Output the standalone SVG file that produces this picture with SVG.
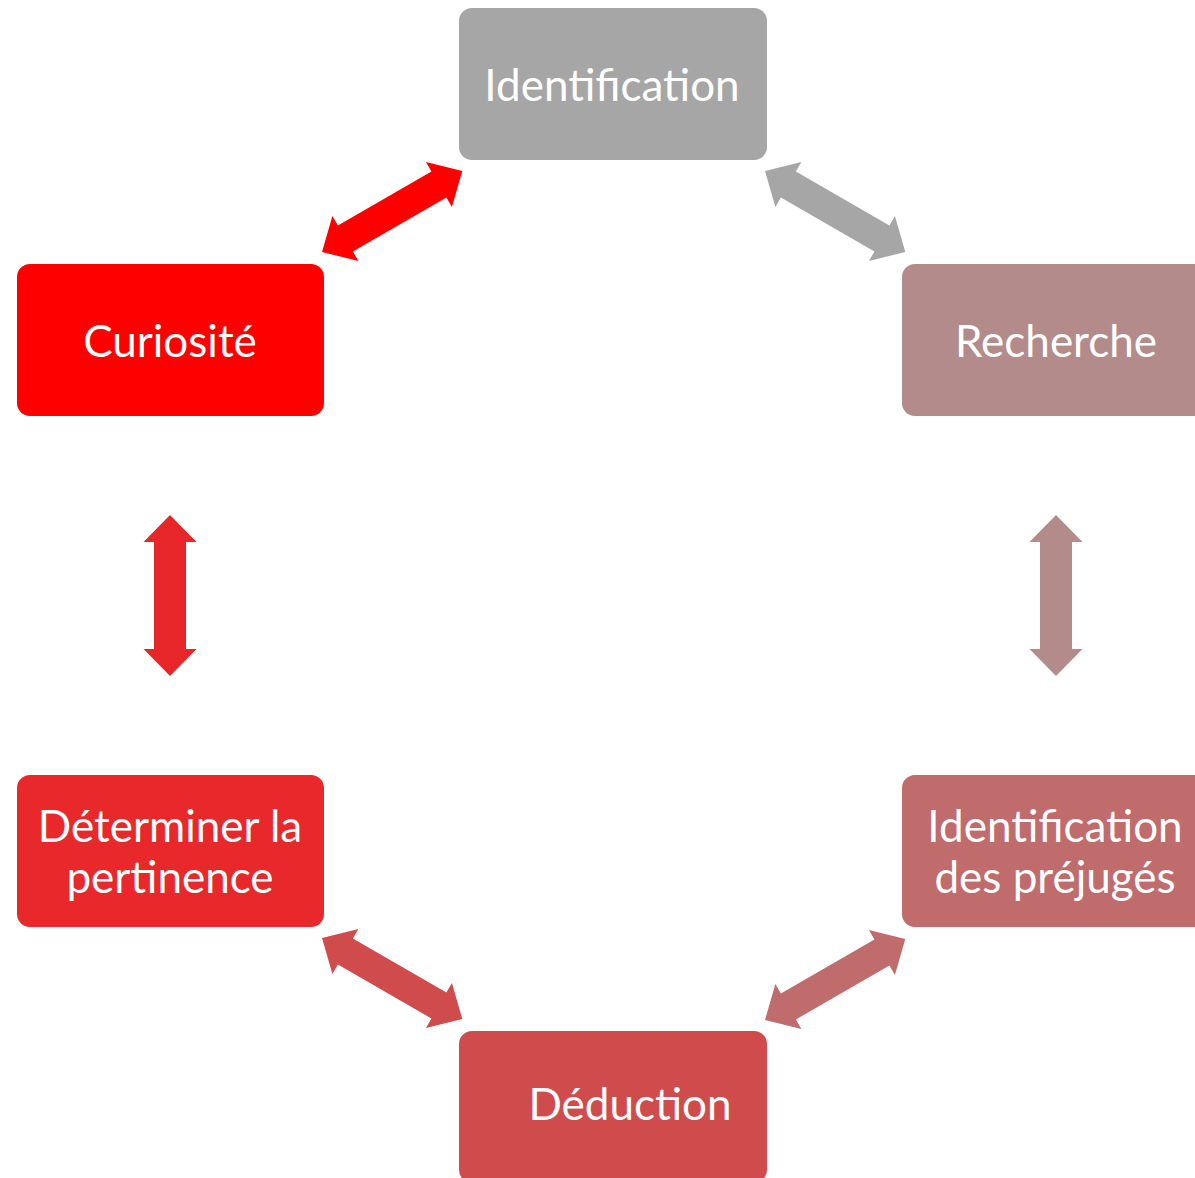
<svg xmlns="http://www.w3.org/2000/svg" width="1195" height="1178" viewBox="0 0 1195 1178">
<style>
.lbl{font-family:Lato,"Open Sans","Noto Sans",sans-serif;font-size:44px;fill:#fff;text-anchor:middle}
</style>
<defs>
<polygon id="dar" points="0,0 27,-26 27,-15 135,-15 135,-26 162,0 135,26 135,15 27,15 27,26"/>
<polygon id="var" points="0,0 27,-26.5 27,-16 134,-16 134,-26.5 161,0 134,26.5 134,16 27,16 27,26.5"/>
</defs>
<rect width="1195" height="1178" fill="#fff"/>
<g id="connectors">
<use href="#dar" fill="#FF0000" transform="translate(322,252) rotate(-30)"/>
<use href="#dar" fill="#A6A6A6" transform="translate(765,171) rotate(30)"/>
<use href="#var" fill="#E62628" transform="translate(170,515) rotate(90)"/>
<use href="#var" fill="#B38B8A" transform="translate(1056,515) rotate(90)"/>
<use href="#dar" fill="#D04B4C" transform="translate(322,938) rotate(30)"/>
<use href="#dar" fill="#C06B6C" transform="translate(765,1020) rotate(-30)"/>
</g>
<g id="n-identification">
<rect x="459" y="8" width="308" height="152" rx="13" fill="#A6A6A6"/>
<text class="lbl" x="612" y="101">Identification</text>
</g>
<g id="n-curiosite">
<rect x="17" y="264" width="307" height="152" rx="13" fill="#FF0000"/>
<text class="lbl" x="170" y="357">Curiosité</text>
</g>
<g id="n-recherche">
<rect x="902" y="264" width="307" height="152" rx="13" fill="#B38B8A"/>
<text class="lbl" x="1056" y="357">Recherche</text>
</g>
<g id="n-determiner">
<rect x="17" y="775" width="307" height="152" rx="13" fill="#E8282B"/>
<text class="lbl" x="170" y="842">Déterminer la</text>
<text class="lbl" x="170" y="893">pertinence</text>
</g>
<g id="n-prejuges">
<rect x="902" y="775" width="307" height="152" rx="13" fill="#C06B6C"/>
<text class="lbl" x="1055" y="842">Identification</text>
<text class="lbl" x="1055" y="893">des préjugés</text>
</g>
<g id="n-deduction">
<rect x="459" y="1031" width="308" height="152" rx="13" fill="#D04B4C"/>
<text class="lbl" x="630" y="1120">Déduction</text>
</g>
</svg>
